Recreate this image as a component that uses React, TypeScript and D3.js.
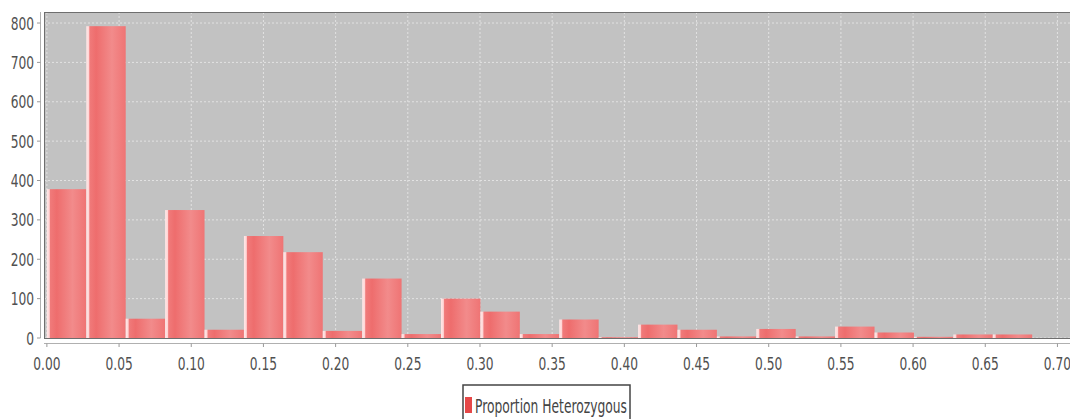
import React from 'react';
import * as d3 from 'd3';

// histogram bins (lower edge) and counts
const binStarts = [
  0.0, 0.0273, 0.0546, 0.0819, 0.1092, 0.1365, 0.1638, 0.1911, 0.2184, 0.2457,
  0.273, 0.3003, 0.3276, 0.3549, 0.3822, 0.4095, 0.4368, 0.4641, 0.4914, 0.5187,
  0.546, 0.5733, 0.6006, 0.6279, 0.6552,
];
const binWidth = 0.0273;
const counts = [
  378, 792, 49, 325, 21, 259, 218, 18, 151, 10,
  100, 67, 10, 47, 2, 34, 21, 4, 23, 4,
  29, 14, 3, 9, 9,
];
const xTicks = [0, 0.05, 0.1, 0.15, 0.2, 0.25, 0.3, 0.35, 0.4, 0.45, 0.5, 0.55, 0.6, 0.65, 0.7];
const yTicks = [0, 100, 200, 300, 400, 500, 600, 700, 800];
const seriesName = 'Proportion Heterozygous';

const W = 1070;
const H = 419;
// the plot runs a little past the right edge of the picture
const plot = { left: 44, right: 1069, top: 12, bottom: 338, clipRight: 1074 };
const font = "'DejaVu Sans', Verdana, sans-serif";
const squeeze = 0.68;

export default function App() {
  const x = d3.scaleLinear().domain([-0.002, 0.708]).range([plot.left, plot.right]);
  const y = d3.scaleLinear().domain([0, 828]).range([plot.bottom, plot.top]);

  const bars = binStarts.map((s, i) => ({ x0: s, x1: s + binWidth, n: counts[i] }));

  return (
    <svg
      width={W}
      height={H}
      style={{ position: 'absolute', left: 0, top: 0, background: '#fff' }}
    >
      <defs>
        <linearGradient id="barFill" x1="0" y1="0" x2="1" y2="0">
          <stop offset="0" stopColor="#ffe8e8" />
          <stop offset="0.06" stopColor="#ffd6d6" />
          <stop offset="0.09" stopColor="#f07a7a" />
          <stop offset="0.25" stopColor="#ee6d6d" />
          <stop offset="0.65" stopColor="#f28b8b" />
          <stop offset="1" stopColor="#ef7474" />
        </linearGradient>
      </defs>

      {/* plot background */}
      <rect
        x={plot.left}
        y={plot.top}
        width={plot.clipRight - plot.left}
        height={plot.bottom - plot.top}
        fill="#c2c2c2"
      />

      {/* grid */}
      {xTicks.map((t) => (
        <line
          key={'gx' + t}
          x1={x(t)}
          x2={x(t)}
          y1={plot.top}
          y2={plot.bottom}
          stroke="#e2e2e2"
          strokeDasharray="2,2"
        />
      ))}
      {yTicks.map((t) => (
        <line
          key={'gy' + t}
          x1={plot.left}
          x2={plot.clipRight}
          y1={y(t)}
          y2={y(t)}
          stroke="#e2e2e2"
          strokeDasharray="2,2"
        />
      ))}

      {/* bars */}
      {bars.map((b, i) => (
        <rect
          key={i}
          x={x(b.x0)}
          y={y(b.n)}
          width={x(b.x1) - x(b.x0)}
          height={y(0) - y(b.n)}
          fill="url(#barFill)"
        />
      ))}

      {/* plot outline */}
      <rect
        x={plot.left + 0.5}
        y={plot.top + 0.5}
        width={plot.clipRight - plot.left}
        height={plot.bottom - plot.top}
        fill="none"
        stroke="#6e6e6e"
      />

      {/* y axis */}
      <line x1={40.5} x2={40.5} y1={plot.top} y2={plot.bottom} stroke="#b0b0b0" />
      {yTicks.map((t) => (
        <g key={'yt' + t}>
          <line x1={37} x2={40.5} y1={y(t)} y2={y(t)} stroke="#999" />
          <text
            transform={`translate(34,${y(t) + 6.5}) scale(${squeeze},1)`}
            textAnchor="end"
            fontFamily={font}
            fontSize={18}
            fill="#505050"
          >
            {t}
          </text>
        </g>
      ))}

      {/* x axis */}
      <line x1={plot.left} x2={plot.clipRight} y1={343.5} y2={343.5} stroke="#b0b0b0" />
      {xTicks.map((t) => (
        <g key={'xt' + t}>
          <line x1={x(t)} x2={x(t)} y1={343.5} y2={347} stroke="#999" />
          <text
            transform={`translate(${x(t)},370) scale(${squeeze},1)`}
            textAnchor="middle"
            fontFamily={font}
            fontSize={18}
            fill="#505050"
          >
            {t.toFixed(2)}
          </text>
        </g>
      ))}

      {/* legend */}
      <rect x={463} y={385} width={167} height={40} fill="#fff" stroke="#444" strokeWidth={1.5} />
      <rect x={465} y={397} width={7} height={16} fill="#e64848" />
      <text
        x={475}
        y={413}
        fontFamily={font}
        fontSize={19}
        fill="#444"
        textLength={152}
        lengthAdjust="spacingAndGlyphs"
      >
        {seriesName}
      </text>
    </svg>
  );
}
